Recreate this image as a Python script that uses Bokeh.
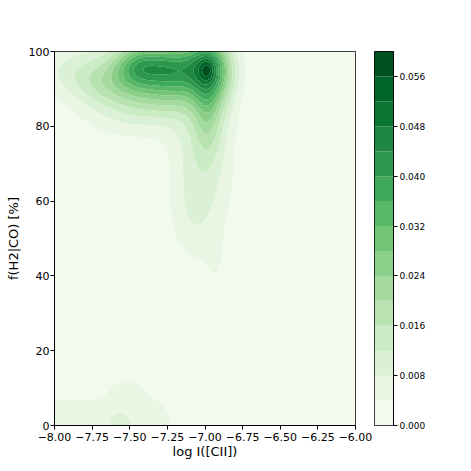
import numpy as np
from bokeh.plotting import figure
from bokeh.layouts import row
from bokeh.models import FixedTicker, Range1d, CustomJSTickFormatter
from bokeh.embed import file_html
from bokeh.resources import INLINE

# ---------------- data ----------------
x_min, x_max = -8.0, -6.0
y_min, y_max = 0.0, 100.0
levels = [0.000, 0.004, 0.008, 0.012, 0.016, 0.020, 0.024, 0.028, 0.032,
          0.036, 0.040, 0.044, 0.048, 0.052, 0.056, 0.060]
x_ticks = [-8.0, -7.75, -7.5, -7.25, -7.0, -6.75, -6.5, -6.25, -6.0]
x_tick_labels = ["\u22128.00", "\u22127.75", "\u22127.50", "\u22127.25", "\u22127.00",
                 "\u22126.75", "\u22126.50", "\u22126.25", "\u22126.00"]
y_ticks = [0, 20, 40, 60, 80, 100]
cb_ticks = [0.000, 0.008, 0.016, 0.024, 0.032, 0.040, 0.048, 0.056]
cb_tick_labels = ["0.000", "0.008", "0.016", "0.024", "0.032", "0.040", "0.048", "0.056"]

# Gaussian components of the density estimate
#            peak    peak    ridge   tail    tail    tail    plat L  plat R  broad   shelfL  shelf   shoulder env1    env2
comp_x   = [-6.985, -6.98,  -6.98,  -7.02,  -7.10,  -6.93,  -7.43,  -7.20,  -7.40,  -7.85,  -7.50,  -6.88,  -7.65,  -7.30,
            -8.05, -7.85, -7.65, -7.45, -7.30, -7.52, -7.57]
comp_y   = [95.2,   96.0,   84.0,   72.0,   55.0,   44.0,   96.0,   95.3,   94.0,   95.0,   84.0,   93.0,   91.0,   87.0,
            0.0, 0.0, 0.0, 0.0, 0.0, 10.0, 1.6]
comp_sx  = [0.035,  0.10,   0.07,   0.15,   0.10,   0.05,   0.12,   0.12,   0.30,   0.20,   0.25,   0.08,   0.15,   0.18,
            0.11, 0.11, 0.11, 0.11, 0.11, 0.09, 0.045]
comp_sy  = [2.0,    6.0,    8.0,    17.0,   8.0,    6.0,    4.5,    5.0,    7.0,    5.0,    6.0,    7.0,    4.0,    4.0,
            6.4, 6.4, 6.4, 6.4, 6.4, 3.0, 1.8]
comp_amp = [0.007,  0.032,  0.012,  0.0105, 0.0025, 0.0025, 0.026,  0.026,  0.010,  0.007,  0.006,  0.005,  0.006,  0.006,
            0.0052, 0.0052, 0.0052, 0.0052, 0.004, 0.0035, 0.002]

x_label = "log I([CII])"
y_label = "f(H2|CO) [%]"

# ---------------- density grid ----------------
xs = np.linspace(x_min, x_max, 321)
ys = np.linspace(y_min, y_max, 321)
X, Y = np.meshgrid(xs, ys)
Z = np.zeros_like(X)
for cx, cy, sx, sy, a in zip(comp_x, comp_y, comp_sx, comp_sy, comp_amp):
    Z += a * np.exp(-((X - cx) ** 2 / (2 * sx ** 2) + (Y - cy) ** 2 / (2 * sy ** 2)))
Z = np.clip(Z, 0.0, levels[-1] - 1e-6)

# ---------------- colours (Greens) ----------------
greens_anchor = ["#f7fcf5", "#e5f5e0", "#c7e9c0", "#a1d99b", "#74c476",
                 "#41ab5d", "#238b45", "#006d2c", "#00441b"]

def greens(t):
    s = t * (len(greens_anchor) - 1)
    i = min(int(s), len(greens_anchor) - 2)
    f = s - i
    c0 = [int(greens_anchor[i][k:k + 2], 16) for k in (1, 3, 5)]
    c1 = [int(greens_anchor[i + 1][k:k + 2], 16) for k in (1, 3, 5)]
    c = [round(c0[j] + (c1[j] - c0[j]) * f) for j in range(3)]
    return "#%02x%02x%02x" % tuple(c)

nb = len(levels) - 1
band_colors = [greens((i + 0.5) / nb) for i in range(nb)]

FONT = "DejaVu Sans"

def fmt(vals, labels):
    return CustomJSTickFormatter(args=dict(tvals=vals, tlabels=labels), code="""
        for (let i = 0; i < tvals.length; i++) {
            if (Math.abs(tvals[i] - tick) < 1e-9) { return tlabels[i]; }
        }
        return '';
    """)

# ---------------- main plot ----------------
p = figure(width=373, height=465, x_range=Range1d(x_min, x_max), y_range=Range1d(y_min, y_max),
           output_backend="svg", toolbar_location=None,
           min_border_left=54, min_border_right=18, min_border_top=51, min_border_bottom=40)
p.contour(x=xs, y=ys, z=Z, levels=levels, fill_color=band_colors)
p.background_fill_color = band_colors[0]
p.grid.visible = False
p.outline_line_color = "black"
p.outline_line_width = 1
for ax in (p.xaxis[0], p.yaxis[0]):
    ax.axis_line_color = "black"
    ax.major_tick_line_color = "black"
    ax.minor_tick_line_color = None
    ax.major_tick_out = 4
    ax.major_tick_in = 0
    ax.major_label_text_font = FONT
    ax.major_label_text_font_size = "11px"
    ax.major_label_text_color = "black"
    ax.axis_label_text_font = FONT
    ax.axis_label_text_font_size = "13px"
    ax.axis_label_text_font_style = "normal"
    ax.axis_label_text_color = "black"
p.xaxis.major_label_standoff = 3
p.xaxis.axis_label_standoff = 0
p.yaxis.major_label_standoff = 1
p.yaxis.axis_label_standoff = 5
p.xaxis.ticker = FixedTicker(ticks=x_ticks)
p.xaxis.formatter = fmt(x_ticks, x_tick_labels)
p.yaxis.ticker = FixedTicker(ticks=y_ticks)
p.xaxis.axis_label = x_label
p.yaxis.axis_label = y_label

# ---------------- colour bar ----------------
pc = figure(width=60, height=465, x_range=Range1d(0, 1), y_range=Range1d(levels[0], levels[-1]),
            output_backend="svg", toolbar_location=None, y_axis_location="right",
            min_border_left=1, min_border_right=40, min_border_top=51, min_border_bottom=40)
pc.quad(left=0, right=1, bottom=levels[:-1], top=levels[1:], fill_color=band_colors, line_color=None)
pc.grid.visible = False
pc.xaxis.visible = False
pc.outline_line_color = "black"
pc.outline_line_width = 1
cax = pc.yaxis[0]
cax.ticker = FixedTicker(ticks=cb_ticks)
cax.formatter = fmt(cb_ticks, cb_tick_labels)
cax.axis_line_color = "black"
cax.major_tick_line_color = "black"
cax.minor_tick_line_color = None
cax.major_tick_out = 4
cax.major_tick_in = 0
cax.major_label_text_font = FONT
cax.major_label_text_font_size = "9px"
cax.major_label_text_color = "black"
cax.major_label_standoff = 2

layout = row(p, pc)
open("out.html", "w").write(file_html(layout, INLINE))
